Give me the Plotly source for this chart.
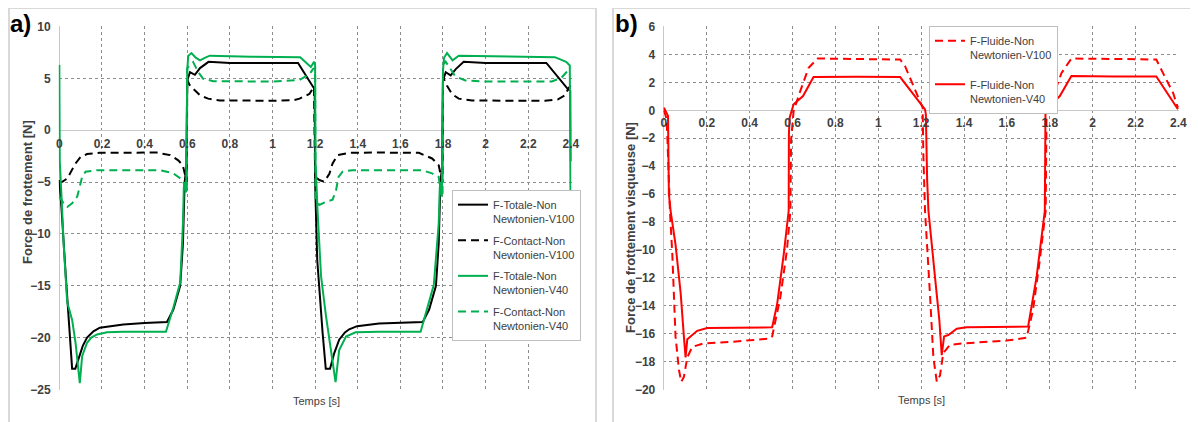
import plotly.graph_objects as go

# ---------------- Panel a) data ----------------
t_tot_v100 = [0, 0.01, 0.03, 0.05, 0.06, 0.075, 0.09, 0.11, 0.13, 0.16, 0.19, 0.25, 0.3, 0.4, 0.505,
              0.535, 0.567, 0.58, 0.588, 0.596, 0.6, 0.613, 0.636, 0.66, 0.70, 0.8, 1.0, 1.12, 1.19,
              1.198, 1.2, 1.21, 1.235, 1.25, 1.27, 1.29, 1.313, 1.34, 1.36, 1.397, 1.5, 1.6, 1.705,
              1.735, 1.767, 1.78, 1.788, 1.796, 1.8, 1.813, 1.836, 1.86, 1.897, 2.0, 2.285, 2.385,
              2.398, 2.4]
f_tot_v100 = [-4.8, -7.5, -14, -20.5, -23, -23, -22.1, -20.8, -20.0, -19.4, -19.05, -18.85, -18.75,
              -18.6, -18.5, -17.3, -15.0, -10.9, -5.0, -3.5, 4.8, 5.6, 5.35, 6.0, 6.6, 6.5, 6.5, 6.5,
              4.2, 4.0, -5, -12.5, -19.5, -23, -23, -21.5, -20.2, -19.5, -19.2, -18.9, -18.65, -18.55,
              -18.5, -17.3, -15, -10.9, -5.0, -3.5, 4.8, 5.6, 5.3, 5.9, 6.6, 6.5, 6.5, 4.0, 3.8, -3]

t_con_v100 = [0, 0.014, 0.037, 0.06, 0.076, 0.1, 0.13, 0.19, 0.3, 0.457, 0.52, 0.558, 0.579, 0.59,
              0.598, 0.6, 0.61, 0.628, 0.66, 0.698, 0.753, 1.0, 1.1, 1.127, 1.173, 1.195, 1.2, 1.22,
              1.243, 1.267, 1.282, 1.305, 1.36, 1.5, 1.687, 1.749, 1.78, 1.788, 1.798, 1.8, 1.804,
              1.819, 1.842, 1.874, 1.936, 2.1, 2.278, 2.34, 2.372, 2.39, 2.4]
f_con_v100 = [-5.0, -4.97, -4.65, -3.85, -3.2, -2.57, -2.3, -2.18, -2.15, -2.15, -2.4, -2.9, -3.37,
              -4.5, -5.0, 4.9, 4.4, 4.0, 3.37, 3.05, 2.88, 2.85, 2.9, 3.05, 3.5, 4.2, -4.5, -4.8,
              -4.97, -4.2, -3.2, -2.4, -2.18, -2.15, -2.18, -2.72, -3.37, -4.2, -5.0, 5.0, 4.97,
              4.3, 3.5, 3.05, 2.88, 2.85, 2.85, 2.98, 3.37, 4.1, 4.3]

t_tot_v40 = [0, 0.002, 0.011, 0.02, 0.037, 0.06, 0.076, 0.096, 0.107, 0.13, 0.15, 0.177, 0.224, 0.3,
             0.5, 0.535, 0.567, 0.58, 0.584, 0.59, 0.595, 0.6, 0.605, 0.62, 0.64, 0.66, 0.685, 0.706,
             0.9, 1.13, 1.18, 1.195, 1.2, 1.202, 1.212, 1.228, 1.251, 1.275, 1.296, 1.313, 1.345,
             1.39, 1.5, 1.695, 1.726, 1.757, 1.78, 1.785, 1.79, 1.795, 1.8, 1.805, 1.819, 1.845,
             1.874, 2.0, 2.325, 2.378, 2.395, 2.4]
f_tot_v40 = [6.3, -3, -6.7, -10.9, -16.6, -18.3, -20.5, -24.4, -21.8, -20.5, -20.0, -19.7, -19.5,
             -19.45, -19.45, -17.1, -14.7, -9, -5.5, -5.0, -6.0, 5.8, 7.2, 7.45, 7.0, 6.75, 7.0, 7.2,
             7.1, 7.05, 6.1, 6.6, 6.3, -3, -8, -14.1, -17.9, -21.2, -24.3, -21.2, -19.9, -19.5,
             -19.45, -19.45, -17.3, -14.9, -9, -5.5, -5.0, -6.0, 5.8, 7.0, 7.45, 6.75, 7.2, 7.15,
             7.05, 6.6, 6.25, -13]

t_con_v40 = [0, 0.02, 0.037, 0.06, 0.084, 0.096, 0.107, 0.123, 0.177, 0.473, 0.535, 0.579, 0.59,
             0.598, 0.6, 0.628, 0.652, 0.675, 0.722, 1.0, 1.127, 1.173, 1.19, 1.2, 1.202, 1.22, 1.251,
             1.282, 1.298, 1.31, 1.329, 1.375, 1.702, 1.749, 1.78, 1.79, 1.798, 1.8, 1.81, 1.835,
             1.858, 1.905, 2.0, 2.31, 2.356, 2.379, 2.4]
f_con_v40 = [-6.4, -7.05, -7.4, -7.05, -6.4, -5.45, -4.5, -4.0, -3.85, -3.85, -4.16, -4.8, -5.5,
             -6.0, 6.0, 6.57, 5.6, 4.97, 4.74, 4.7, 4.85, 5.4, 5.9, 6.0, -6.7, -7.2, -6.9, -6.7,
             -5.8, -4.5, -4.0, -3.85, -3.85, -4.16, -4.5, -6.1, -6.5, 6.0, 6.7, 5.9, 5.2, 4.8, 4.7,
             4.7, 5.07, 5.6, 6.0]

# ---------------- Panel b) data ----------------
t_fl_v100 = [0, 0.01, 0.015, 0.028, 0.039, 0.054, 0.07, 0.081, 0.093, 0.109, 0.132, 0.186, 0.31,
             0.497, 0.505, 0.543, 0.574, 0.59, 0.593, 0.605, 0.636, 0.675, 0.717, 0.9, 1.102, 1.125,
             1.164, 1.207, 1.21, 1.218, 1.242, 1.257, 1.273, 1.288, 1.303, 1.335, 1.397, 1.598,
             1.692, 1.722, 1.753, 1.781, 1.785, 1.816, 1.855, 1.901, 2.1, 2.297, 2.328, 2.375, 2.398]
f_fl_v100 = [0.0, -0.5, -1.5, -7.2, -10.3, -16.2, -18.6, -19.45, -19.1, -17.7, -16.95, -16.7, -16.6,
             -16.35, -16.2, -13.4, -10.0, -7.2, -2.2, -0.05, 1.38, 3.04, 3.71, 3.68, 3.64, 3.16,
             1.74, 0.19, -3.0, -7.2, -13.4, -17.7, -19.45, -19.0, -17.4, -16.8, -16.7, -16.5,
             -16.3, -14.3, -10.8, -7.2, -0.17, 1.02, 2.68, 3.71, 3.68, 3.64, 2.68, 1.26, 0.19]

t_fl_v40 = [0, 0.019, 0.023, 0.031, 0.054, 0.078, 0.093, 0.101, 0.109, 0.124, 0.155, 0.202, 0.35,
            0.505, 0.528, 0.559, 0.582, 0.583, 0.587, 0.605, 0.649, 0.698, 0.9, 1.102, 1.218, 1.222,
            1.228, 1.234, 1.265, 1.285, 1.296, 1.307, 1.327, 1.366, 1.412, 1.699, 1.738, 1.777,
            1.78, 1.792, 1.847, 1.901, 2.1, 2.297, 2.398]
f_fl_v40 = [0.19, -0.4, -6.0, -7.2, -9.6, -13.1, -16.2, -17.7, -16.4, -16.2, -15.8, -15.6, -15.55,
            -15.55, -13.9, -10.3, -7.2, -1.7, -0.5, 0.43, 1.02, 2.38, 2.4, 2.38, 0.07, -0.3, -5.0,
            -7.2, -12.0, -15.05, -17.55, -16.2, -16.1, -15.65, -15.55, -15.5, -12.0, -7.2, -0.3,
            0.19, 1.02, 2.45, 2.42, 2.42, 0.07]

x_ticks = [0, 0.2, 0.4, 0.6, 0.8, 1, 1.2, 1.4, 1.6, 1.8, 2, 2.2, 2.4]
x_tick_text = ["0", "0.2", "0.4", "0.6", "0.8", "1", "1.2", "1.4", "1.6", "1.8", "2", "2.2", "2.4"]
ya_ticks = [10, 5, 0, -5, -10, -15, -20, -25]
yb_ticks = [6, 4, 2, 0, -2, -4, -6, -8, -10, -12, -14, -16, -18, -20]

# ---------------- Layout constants ----------------
OFF = 8                      # page body margin of the browser
W, H = 1198 - OFF, 422 - OFF  # figure size so that it fills the window
FONT = "Liberation Sans Narrow, Arial Narrow, Liberation Sans, Arial, sans-serif"
TXT = "#404040"
BLACK = "#000000"
GREEN = "#00B050"
RED = "#FF0000"
DASH = "8px,5px"


def px_x(p):
    return (p - OFF) / W


def px_y(p):
    return 1 - (p - OFF) / H


a_dom_x = [px_x(58.7), px_x(571.5)]
b_dom_x = [px_x(663.3), px_x(1179)]
dom_y = [px_y(390), px_y(26)]

fig = go.Figure()

fig.add_trace(go.Scatter(x=t_tot_v100, y=f_tot_v100, mode="lines", name="F-Totale-Non<br>Newtonien-V100",
                         line=dict(color=BLACK, width=2), legend="legend", legendgroup="a1",
                         xaxis="x", yaxis="y"))
fig.add_trace(go.Scatter(x=t_con_v100, y=f_con_v100, mode="lines", name="F-Contact-Non<br>Newtonien-V100",
                         line=dict(color=BLACK, width=2, dash=DASH), legend="legend", legendgroup="a2",
                         xaxis="x", yaxis="y"))
fig.add_trace(go.Scatter(x=t_tot_v40, y=f_tot_v40, mode="lines", name="F-Totale-Non<br>Newtonien-V40",
                         line=dict(color=GREEN, width=2), legend="legend", legendgroup="a3",
                         xaxis="x", yaxis="y"))
fig.add_trace(go.Scatter(x=t_con_v40, y=f_con_v40, mode="lines", name="F-Contact-Non<br>Newtonien-V40",
                         line=dict(color=GREEN, width=2, dash=DASH), legend="legend", legendgroup="a4",
                         xaxis="x", yaxis="y"))

fig.add_trace(go.Scatter(x=t_fl_v100, y=f_fl_v100, mode="lines", name="F-Fluide-Non<br>Newtonien-V100",
                         line=dict(color=RED, width=2, dash=DASH), legend="legend2", legendgroup="b1",
                         xaxis="x2", yaxis="y2"))
fig.add_trace(go.Scatter(x=t_fl_v40, y=f_fl_v40, mode="lines", name="F-Fluide-Non<br>Newtonien-V40",
                         line=dict(color=RED, width=2), legend="legend2", legendgroup="b2",
                         xaxis="x2", yaxis="y2"))

tickfont = dict(family=FONT, size=12, color=TXT, weight="bold")
grid = dict(showgrid=True, gridcolor="#8c8c8c", griddash="dot", gridwidth=1,
            zeroline=True, zerolinecolor="#c8c8c8", zerolinewidth=1, showline=False,
            ticks="", tickfont=tickfont, automargin=False)

fig.update_layout(
    width=W, height=H,
    margin=dict(l=0, r=0, t=0, b=0, autoexpand=False),
    paper_bgcolor="white", plot_bgcolor="white",
    showlegend=True,
    xaxis=dict(domain=a_dom_x, range=[-0.003, 2.403], tickvals=x_ticks, ticktext=x_tick_text,
               anchor="free", position=px_y(130), ticklabelstandoff=5, **grid),
    yaxis=dict(domain=dom_y, range=[-25.06, 10.06], tickvals=ya_ticks, anchor="x",
               ticklabelstandoff=7, **grid),
    xaxis2=dict(domain=b_dom_x, range=[-0.003, 2.403], tickvals=x_ticks, ticktext=x_tick_text,
                anchor="free", position=px_y(109.3), ticklabelstandoff=5, **grid),
    yaxis2=dict(domain=dom_y, range=[-20.04, 6.04], tickvals=yb_ticks, anchor="x2",
                ticklabelstandoff=7, **grid),
    legend=dict(x=px_x(452), y=px_y(190), xanchor="left", yanchor="top",
                bgcolor="white", bordercolor="#bfbfbf", borderwidth=1,
                font=dict(family=FONT, size=11, color=TXT), valign="top",
                tracegroupgap=4, traceorder="grouped", itemwidth=30),
    legend2=dict(x=px_x(929), y=px_y(26), xanchor="left", yanchor="top",
                 bgcolor="white", bordercolor="#bfbfbf", borderwidth=1,
                 font=dict(family=FONT, size=11, color=TXT), valign="top",
                 tracegroupgap=12, traceorder="grouped", itemwidth=30),
    shapes=[
        dict(type="rect", xref="paper", yref="paper", x0=px_x(9), x1=px_x(596), y0=-0.2, y1=px_y(8),
             line=dict(color="#d9d9d9", width=2), layer="below"),
        dict(type="rect", xref="paper", yref="paper", x0=px_x(613), x1=1.2, y0=-0.2, y1=px_y(8),
             line=dict(color="#d9d9d9", width=2), layer="below"),
    ],
    annotations=[
        dict(text="a)", xref="paper", yref="paper", x=px_x(8), y=px_y(24), xanchor="left",
             yanchor="middle", showarrow=False, font=dict(family=FONT, size=24, color="#000", weight="bold")),
        dict(text="b)", xref="paper", yref="paper", x=px_x(613), y=px_y(24), xanchor="left",
             yanchor="middle", showarrow=False, font=dict(family=FONT, size=24, color="#000", weight="bold")),
        dict(text="Force de frottement [N]", xref="paper", yref="paper", x=px_x(27), y=px_y(192),
             textangle=-90, showarrow=False, xanchor="center", yanchor="middle",
             font=dict(family=FONT, size=13, color=TXT, weight="bold")),
        dict(text="Force de frottement visqueuse [N]", xref="paper", yref="paper", x=px_x(630),
             y=px_y(228), textangle=-90, showarrow=False, xanchor="center", yanchor="middle",
             font=dict(family=FONT, size=13, color=TXT, weight="bold")),
        dict(text="Temps [s]", xref="paper", yref="paper", x=px_x(316), y=px_y(401),
             showarrow=False, xanchor="center", yanchor="middle",
             font=dict(family=FONT, size=11, color=TXT)),
        dict(text="Temps [s]", xref="paper", yref="paper", x=px_x(921), y=px_y(400),
             showarrow=False, xanchor="center", yanchor="middle",
             font=dict(family=FONT, size=11, color=TXT)),
    ],
)

fig.write_html("out.html")
